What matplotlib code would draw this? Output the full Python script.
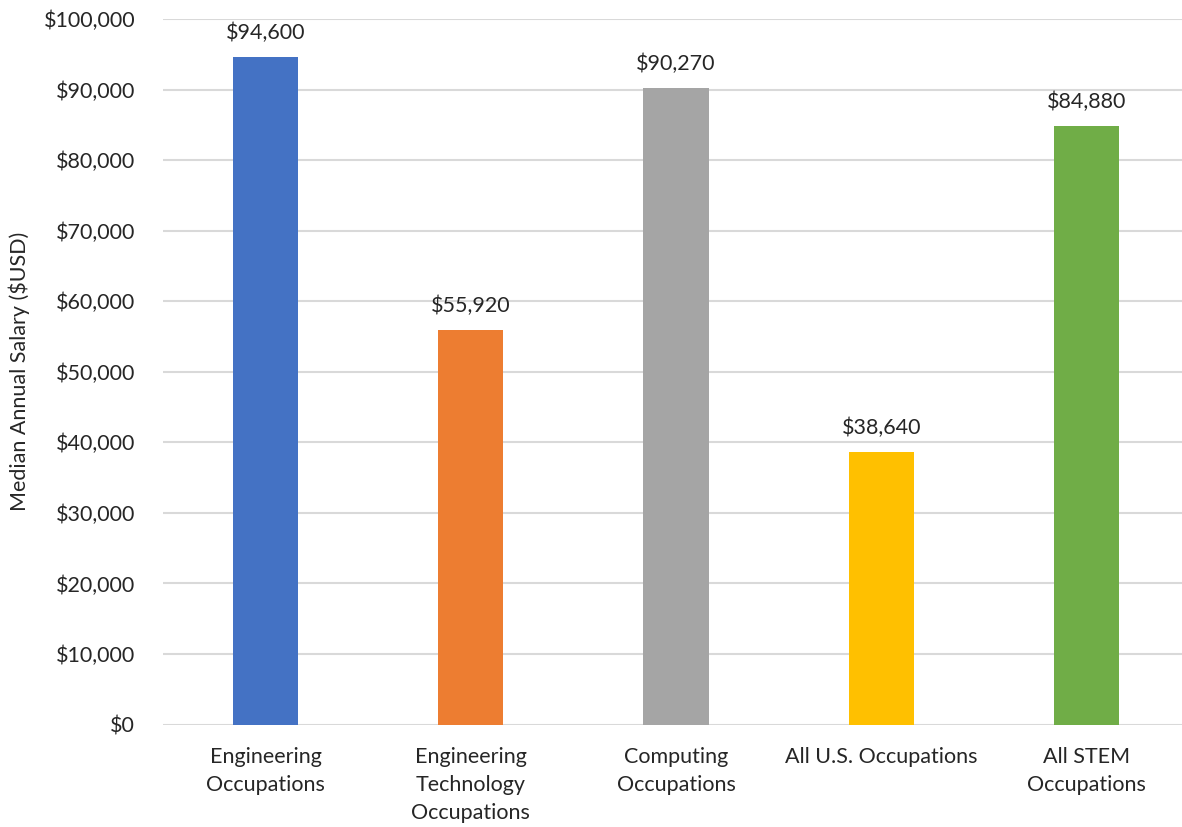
import matplotlib.pyplot as plt
from matplotlib.ticker import FuncFormatter

categories = ["Engineering\nOccupations", "Engineering\nTechnology\nOccupations",
              "Computing\nOccupations", "All U.S. Occupations", "All STEM\nOccupations"]
salaries = [94600, 55920, 90270, 38640, 84880]
colors = ["#4472C4", "#ED7D31", "#A5A5A5", "#FFC000", "#70AD47"]

plt.rcParams['font.family'] = ['Lato', 'DejaVu Sans']
text_color = "#262626"

fig = plt.figure(figsize=(11.82, 8.27), dpi=100)
W, H = 1182, 827
left, right, top, bottom = 163, 1189, 19, 724.5
ax = fig.add_axes([left / W, 1 - bottom / H, (right - left) / W, (bottom - top) / H])

x = range(len(categories))
ax.bar(x, salaries, width=0.317, color=colors, zorder=3)

# value labels over the bars
for xi, v in zip(x, salaries):
    ax.annotate(f"${v:,}", (xi, v), xytext=(0, 10), textcoords="offset points",
                ha="center", va="bottom", fontsize=15.5, color=text_color)

ax.set_xlim(-0.5, len(categories) - 0.5)
ax.set_ylim(0, 100000)
ax.set_yticks(range(0, 100001, 10000))
ax.yaxis.set_major_formatter(FuncFormatter(lambda v, p: f"${int(v):,}"))
ax.set_xticks(list(x))
ax.set_xticklabels(categories, fontsize=15.5, color=text_color, linespacing=1.5)
ax.tick_params(axis="y", labelsize=15.5, labelcolor=text_color, length=0, pad=20)
ax.tick_params(axis="x", length=0, pad=16)

ax.grid(axis="y", color="#D9D9D9", linewidth=1.5, zorder=0)
ax.set_axisbelow(True)
for s in ax.spines.values():
    s.set_visible(False)

ax.set_ylabel("Median Annual Salary ($USD)", fontsize=15.5, color=text_color)
ax.yaxis.set_label_coords(-133 / (right - left), 0.5)

fig.savefig("out.png", dpi=100)
